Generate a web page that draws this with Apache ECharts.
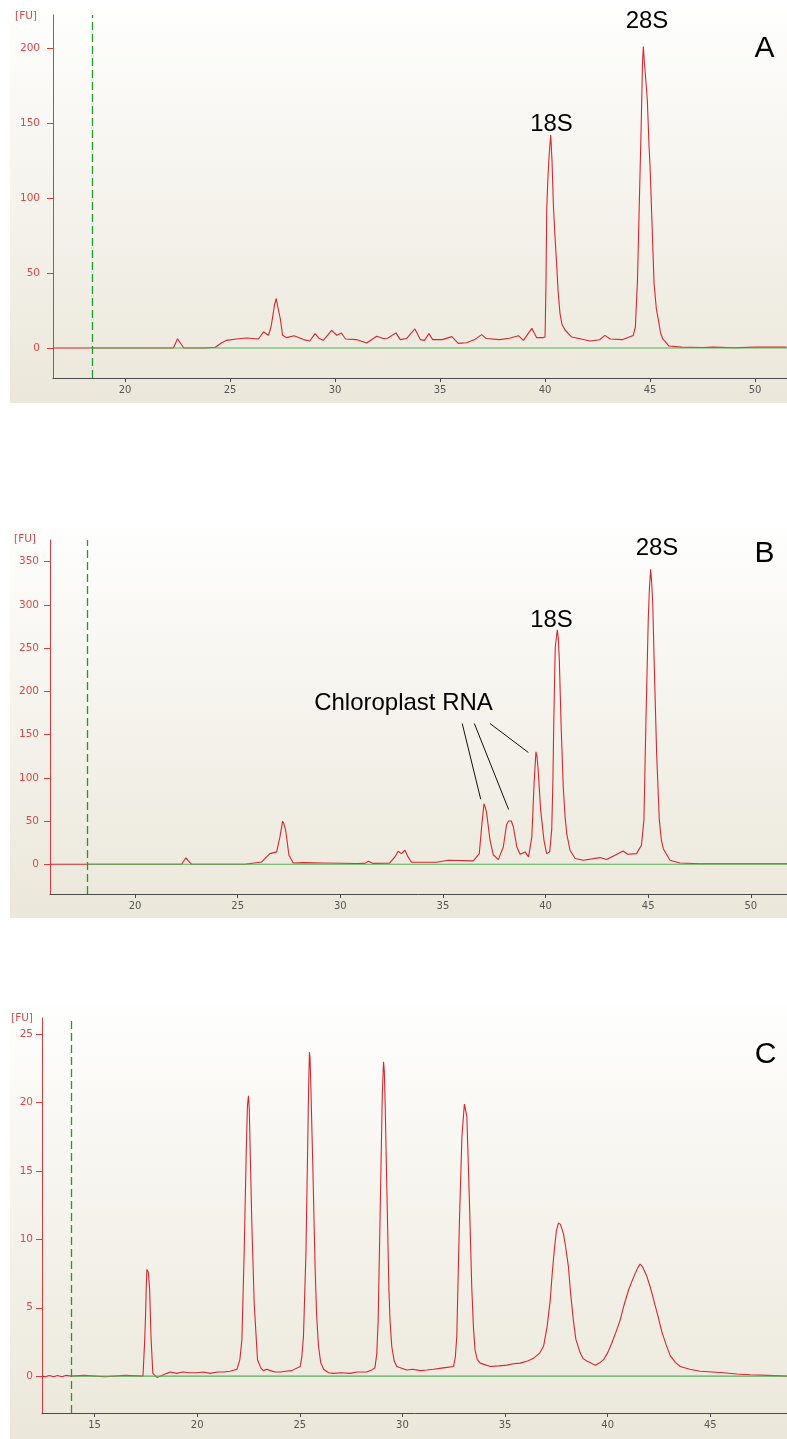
<!DOCTYPE html>
<html>
<head>
<meta charset="utf-8">
<script src="https://cdn.jsdelivr.net/npm/echarts@6/dist/echarts.min.js"></script>
<style>
html,body{margin:0;padding:0;background:#fff;overflow:hidden;}
#chart{width:787px;height:1439px;}
</style>
</head>
<body>
<div id="chart"></div>
<script>
// ---------- DATA ----------
// Panel A: size [s] vs fluorescence [FU]
const traceA = [
 [16.57,0],[18.43,0],[22.3,0],[22.4,3],[22.5,6.2],[22.6,4],[22.8,0],[23.8,0],[24.3,0.5],[24.6,3.5],[24.84,5.1],[25.3,6],[25.8,6.7],
 [26.35,6],[26.6,10.7],[26.83,8.5],[26.95,14],[27.03,20.7],[27.12,29],[27.2,33],[27.28,27],[27.4,19],[27.5,8.5],[27.7,6.9],[28.05,8.2],[28.5,5.6],
 [28.8,4.7],[29.05,9.6],[29.25,6.3],[29.44,5.1],[29.84,11.8],[30.08,8.5],[30.3,10],[30.5,6],[31.0,5.6],[31.51,3.3],
 [31.98,7.8],[32.3,6.3],[32.5,6.5],[32.9,10.1],[33.1,5.6],[33.4,6.3],[33.8,12.7],[34.06,5.6],[34.26,5.1],[34.47,9.6],
 [34.65,5.6],[35.1,5.6],[35.56,7.6],[35.87,3.1],[36.26,3.5],[36.65,5.6],[36.98,8.9],[37.2,6.3],[37.84,5.6],[38.3,6.5],
 [38.73,8.2],[38.97,5.1],[39.37,13.1],[39.6,6.9],[39.9,6.9],[40.0,7.3],[40.04,40],[40.08,92],[40.13,112],[40.2,130],
 [40.27,142],[40.33,125],[40.4,94],[40.47,75],[40.54,58.7],[40.62,38],[40.71,23.1],[40.8,16],[40.95,12],[41.27,7.3],
 [41.67,6.2],[42.14,4.7],[42.6,5.5],[42.85,8.4],[43.1,6],[43.7,5.6],[44.2,8.4],[44.3,14],[44.4,45],[44.49,98],[44.58,150],
 [44.64,190],[44.68,201],[44.73,190],[44.8,178],[44.87,165],[44.95,135],[45.0,120.7],[45.1,80],[45.19,43],[45.3,26],
 [45.4,18.4],[45.5,10],[45.6,6.2],[45.9,1.3],[46.5,0.6],[47.5,0.3],[48.0,0.6],[49.0,0.2],[50.0,0.6],[51.5,0.6]
];
// Panel B
const traceB = [
 [15.86,0],[17.68,0],[22.27,0],[22.38,4],[22.48,7.3],[22.6,4],[22.76,0],[25.36,0],[26.17,2.7],[26.57,12.3],[26.9,14.3],
 [27.06,31.6],[27.19,49.8],[27.25,47],[27.34,39],[27.5,10.4],[27.71,1.5],[28.2,1.9],[29.2,1.5],[30.8,0.8],[31.2,1],[31.37,3.5],
 [31.6,1],[32.4,1.2],[32.66,8.5],[32.82,15],[32.98,12.3],[33.15,16.2],[33.3,8.5],[33.47,2.3],[34.69,2.3],[35.26,4.6],
 [35.34,3.9],[36.48,3.9],[36.77,12.3],[36.9,47],[37.0,70],[37.06,66],[37.13,59],[37.29,28.4],[37.45,11],[37.7,5.4],[37.94,20],
 [38.1,46],[38.2,50],[38.33,50],[38.43,43.4],[38.6,20],[38.76,11.6],[39.0,14.3],[39.17,8.5],[39.33,31.6],[39.44,93],[39.53,130],
 [39.58,125],[39.64,109],[39.76,62.6],[39.92,28],[40.05,12.3],[40.2,14.3],[40.3,40],[40.36,100],[40.4,166],[40.47,251],
 [40.57,271],[40.62,262],[40.67,236],[40.75,166],[40.86,89.5],[40.95,55],[41.03,35.5],[41.19,16.2],[41.44,6.6],[41.84,4.6],
 [42.65,7.7],[42.97,5.4],[43.38,10.4],[43.78,15.4],[44.0,11.6],[44.43,12.3],[44.67,22],[44.79,51],[44.89,166.7],[45.0,282],
 [45.06,320],[45.12,341],[45.17,325],[45.22,302],[45.3,224.5],[45.41,128],[45.54,51],[45.64,28],[45.74,17.7],[46.06,4.6],
 [46.55,1.5],[47.5,0.5],[51.76,0.5]
];
// Panel C
const traceC = [
 [12.44,0],[12.6,-0.05],[12.8,0.05],[13.0,-0.05],[13.2,0.05],[13.4,-0.05],[13.6,0.05],[13.86,0],[14.5,0.05],[15.5,-0.05],
 [16.5,0.05],[17.36,0],[17.44,2.5],[17.48,4.1],[17.52,6.5],[17.55,7.8],[17.62,7.6],[17.68,6.5],[17.72,4.5],[17.75,2.9],
 [17.84,0.2],[18.04,-0.1],[18.53,0.2],[18.7,0.3],[19.0,0.2],[19.3,0.3],[19.6,0.25],[19.99,0.25],[20.3,0.3],[20.64,0.2],
 [21.0,0.3],[21.29,0.3],[21.6,0.35],[21.94,0.5],[22.08,1.2],[22.18,2.65],[22.29,9],[22.39,16.3],[22.45,19.8],[22.5,20.5],
 [22.54,19.5],[22.58,16.8],[22.66,11.4],[22.78,5.3],[22.94,1.2],[23.1,0.6],[23.23,0.4],[23.4,0.5],[23.56,0.4],[23.8,0.3],
 [24.05,0.3],[24.3,0.35],[24.61,0.4],[25.02,0.7],[25.1,1.4],[25.18,2.9],[25.3,9],[25.38,16.3],[25.43,21],[25.47,23.7],
 [25.5,23.3],[25.54,21.2],[25.6,17.5],[25.64,15.1],[25.7,11],[25.75,7.8],[25.82,4.5],[25.91,2.2],[26.02,1.0],[26.16,0.5],
 [26.4,0.25],[26.64,0.2],[27.0,0.25],[27.45,0.2],[27.8,0.3],[28.26,0.3],[28.5,0.45],[28.66,0.6],[28.75,1.6],[28.82,4.1],
 [28.94,13.9],[29.02,20.5],[29.08,23.0],[29.12,22.3],[29.16,19.9],[29.24,13.9],[29.34,6.5],[29.4,4.0],[29.48,2.2],
 [29.6,1.1],[29.73,0.7],[30.21,0.45],[30.5,0.5],[30.86,0.4],[31.2,0.45],[31.51,0.5],[32.0,0.6],[32.49,0.7],[32.58,1.4],
 [32.65,2.9],[32.78,11.4],[32.9,17.5],[33.02,19.9],[33.08,19.8],[33.14,19.0],[33.27,12.6],[33.38,6.5],[33.46,3.6],
 [33.54,1.9],[33.65,1.2],[33.79,0.95],[34.28,0.7],[34.7,0.75],[35.09,0.8],[35.4,0.9],[35.74,0.95],[36.1,1.1],[36.39,1.3],
 [36.7,1.7],[36.88,2.2],[37.05,3.6],[37.2,5.5],[37.3,7.5],[37.4,9.2],[37.5,10.6],[37.6,11.2],[37.7,11.1],[37.85,10.4],
 [37.95,9.5],[38.09,8.0],[38.2,6.0],[38.33,4.1],[38.45,2.7],[38.66,1.7],[38.8,1.3],[38.98,1.1],[39.2,0.95],[39.39,0.8],
 [39.6,0.95],[39.8,1.2],[40.0,1.7],[40.2,2.4],[40.4,3.2],[40.61,4.1],[40.8,5.2],[41.02,6.3],[41.2,7.0],[41.34,7.5],
 [41.46,7.9],[41.58,8.2],[41.7,8.0],[41.91,7.3],[42.08,6.5],[42.24,5.6],[42.45,4.4],[42.65,3.2],[42.85,2.3],[43.05,1.5],
 [43.3,1.0],[43.54,0.7],[44.0,0.5],[44.51,0.35],[45.1,0.3],[45.65,0.25],[46.3,0.15],[46.94,0.1],[47.8,0.05],[48.74,0]
];
// axis ranges and ticks
const xRangeA = [16.57, 51.52], yRangeA = [-20, 222];
const xRangeB = [15.86, 51.76], yRangeB = [-34.4, 375];
const xRangeC = [12.44, 48.74], yRangeC = [-2.7, 26.2];
const xTicksA = [20,25,30,35,40,45,50];
const xTicksB = [20,25,30,35,40,45,50];
const xTicksC = [15,20,25,30,35,40,45];
const yTicksA = [0,50,100,150,200];
const yTicksB = [0,50,100,150,200,250,300,350];
const yTicksC = [0,5,10,15,20,25];
const dashA = 18.43, dashB = 17.68, dashC = 13.86;   // marker (dashed line) positions
// chloroplast RNA pointer lines: [from, to] in data coords
const pointersB = [
 [[35.94,162.8],[36.84,75.2]],
 [[36.53,162.8],[38.2,63.3]],
 [[37.29,162.8],[39.16,129.3]]
];

// ---------- STYLE ----------
const RED = '#d8262f', GREEN = '#5aae5a', DGREEN = '#1f9a32';
const YLAB = '#e04848', XLAB = '#555555';
const grids = [
 {left:53, top:15, width:734, height:363},
 {left:50, top:540, width:737, height:354},
 {left:42, top:1018, width:745, height:395}
];
const xr=[xRangeA,xRangeB,xRangeC], yr=[yRangeA,yRangeB,yRangeC];
const xt=[xTicksA,xTicksB,xTicksC], yt=[yTicksA,yTicksB,yTicksC];
const ymargins=[13,11,9];
const traces=[traceA,traceB,traceC], dashes=[dashA,dashB,dashC];

const xAxes = [], yAxes = [], series = [];
for (let i=0;i<3;i++){
  xAxes.push({
    type:'value', gridIndex:i, min:xr[i][0], max:xr[i][1],
    axisLine:{onZero:false, lineStyle:{color:'#4a4a4a', width:1}},
    axisTick:{show:true, customValues:xt[i], length:4, lineStyle:{color:'#4a4a4a'}},
    axisLabel:{customValues:xt[i], color:XLAB, fontSize:10, fontFamily:'DejaVu Sans', margin:7},
    splitLine:{show:false}
  });
  yAxes.push({
    type:'value', gridIndex:i, min:yr[i][0], max:yr[i][1],
    axisLine:{show:true, onZero:false, lineStyle:{color:'#e03a3a', width:1}},
    axisTick:{show:true, customValues:yt[i], length:6, lineStyle:{color:'#e03a3a'}},
    axisLabel:{customValues:yt[i], color:YLAB, fontSize:10.5, fontFamily:'DejaVu Sans', margin:ymargins[i]},
    splitLine:{show:false}
  });
  series.push({
    type:'line', xAxisIndex:i, yAxisIndex:i, data:traces[i], showSymbol:false, symbol:'none',
    lineStyle:{color:RED, width:1.1}, z:2, silent:true,
    markLine: i===1 ? {
      silent:true, symbol:['none','none'], label:{show:false},
      lineStyle:{color:'#111', width:1, type:'solid'},
      data: pointersB.map(p=>[{coord:p[0]},{coord:p[1]}])
    } : undefined
  });
  series.push({
    type:'line', xAxisIndex:i, yAxisIndex:i, data:[[dashes[i],0],[xr[i][1],0]], showSymbol:false, symbol:'none',
    lineStyle:{color:GREEN, width:1.2}, z:3, silent:true,
    markLine:{silent:true, symbol:['none','none'], label:{show:false},
      lineStyle:{color:DGREEN, width:1.3, type:[8,4]}, data:[{xAxis:dashes[i]}]}
  });
}

function bg(y,h){
  return {type:'rect', z:-10, shape:{x:10,y:y,width:777,height:h},
    style:{fill:new echarts.graphic.LinearGradient(0,0,0,1,[{offset:0,color:'#fefefd'},{offset:1,color:'#ebe7da'}])}};
}
function txt(t,x,y,size,color,align){
  return {type:'text', z:100, x:x, y:y, style:{text:t, fontSize:size, fontFamily: size>14?'Liberation Sans':'DejaVu Sans',
    fill:color||'#000', align:align||'center', verticalAlign:'middle'}};
}
const graphics = [
  bg(10,393), bg(527,391), bg(1006,433),
  txt('[FU]',26,16,10.5,YLAB), txt('[FU]',25,539,10.5,YLAB), txt('[FU]',22,1018,10.5,YLAB),
  txt('28S',647,21.5,24), txt('18S',551.5,124,24), txt('A',764.5,48.5,30),
  txt('28S',657,548,24), txt('18S',551.5,620,24), txt('B',764.5,553.5,30),
  txt('Chloroplast RNA',403.5,703,24),
  txt('C',765.5,1055,30)
];

const chart = echarts.init(document.getElementById('chart'), null, {renderer:'canvas'});
chart.setOption({
  animation:false,
  backgroundColor:'#ffffff',
  grid: grids,
  xAxis: xAxes,
  yAxis: yAxes,
  series: series,
  graphic: {elements: graphics}
});
</script>
</body>
</html>
